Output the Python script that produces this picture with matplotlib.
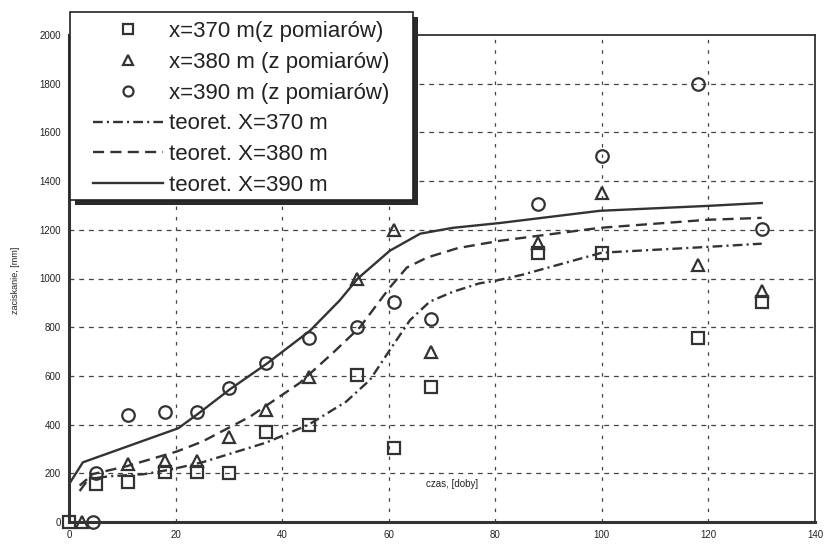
import matplotlib
matplotlib.use("Agg")
import matplotlib.pyplot as plt
from matplotlib.patches import Rectangle

plt.rcParams['font.family'] = ['Liberation Sans', 'DejaVu Sans']
plt.rcParams['lines.scale_dashes'] = False

# pomiary (czas [doby], zaciskanie [mm])
x370 = [0, 5, 11, 18, 24, 30, 37, 45, 54, 61, 68, 88, 100, 118, 130]
y370 = [0, 155, 165, 205, 205, 200, 370, 400, 605, 305, 555, 1105, 1105, 755, 905]

x380 = [2.5, 11, 18, 24, 30, 37, 45, 54, 61, 68, 88, 100, 118, 130]
y380 = [0, 240, 250, 250, 350, 460, 595, 1000, 1200, 700, 1145, 1350, 1055, 950]

x390 = [4.5, 5, 11, 18, 24, 30, 37, 45, 54, 61, 68, 88, 100, 118, 130]
y390 = [0, 200, 440, 450, 450, 550, 655, 755, 800, 905, 835, 1305, 1505, 1800, 1205]

# krzywe teoretyczne
tx370 = [2, 3.4, 7.7, 13.9, 19, 25, 37, 45, 52, 56.5, 60.2, 64, 67.7, 72, 77, 80.3, 85, 100, 120, 130]
ty370 = [150, 176, 188, 196, 215, 245, 326, 400, 494, 584, 706, 829, 905, 945, 980, 992, 1015, 1106, 1130, 1143]

tx380 = [2, 4.3, 10.8, 20.3, 25, 34, 43.3, 49.5, 54.6, 60.2, 63.4, 67.2, 73, 80.9, 99.6, 119.7, 130]
ty380 = [127, 196, 229, 290, 330, 433, 571, 694, 800, 963, 1045, 1086, 1125, 1155, 1208, 1241, 1249]

tx390 = [0, 2.6, 20.5, 24.5, 30.2, 37.1, 45.2, 50.8, 54.2, 60.2, 65.9, 72, 80.9, 99.6, 119.7, 130]
ty390 = [155, 245, 385, 449, 545, 650, 785, 910, 1000, 1114, 1184, 1208, 1228, 1278, 1298, 1310]

xticks = [0, 20, 40, 60, 80, 100, 120, 140]
yticks = [0, 200, 400, 600, 800, 1000, 1200, 1400, 1600, 1800, 2000]

W, H = 827, 545
fig = plt.figure(figsize=(W / 100, H / 100), dpi=100)
ax = fig.add_axes([69 / W, 1 - 522 / H, (815 - 69) / W, (522 - 35) / H])

c = '#333333'
for v in yticks[1:-1]:
    ax.axhline(v, color='#444444', lw=0.9, dashes=(3.5, 3.5), zorder=1)
for v in xticks[1:-1]:
    ax.axvline(v, color='#444444', lw=0.9, dashes=(2.5, 5), zorder=1)

ms = 9
ax.plot(x370, y370, ls='none', marker='s', ms=ms, mfc='none', mec=c, mew=1.6,
        label='x=370 m(z pomiarów)', zorder=3, clip_on=False)
ax.plot(x380, y380, ls='none', marker='^', ms=ms, mfc='none', mec=c, mew=1.6,
        label='x=380 m (z pomiarów)', zorder=3, clip_on=False)
ax.plot(x390, y390, ls='none', marker='o', ms=ms, mfc='none', mec=c, mew=1.6,
        label='x=390 m (z pomiarów)', zorder=3, clip_on=False)

ax.plot(tx370, ty370, color=c, lw=1.7, dashes=(7, 3, 1.5, 3), label='teoret. X=370 m', zorder=2)
ax.plot(tx380, ty380, color=c, lw=1.7, dashes=(8, 4.5), label='teoret. X=380 m', zorder=2)
ax.plot(tx390, ty390, color=c, lw=1.7, label='teoret. X=390 m', zorder=2)

ax.set_xlim(0, 140)
ax.set_ylim(0, 2000)
ax.set_xticks(xticks)
ax.set_yticks(yticks)
ax.tick_params(length=0, labelsize=7, colors='#222222', pad=6)
ax.spines['left'].set_linewidth(2.2)
ax.spines['bottom'].set_linewidth(2.2)
ax.spines['top'].set_linewidth(1.3)
ax.spines['right'].set_linewidth(1.3)
for s in ax.spines.values():
    s.set_color('#333333')

ax.text(0.478, 0.072, 'czas, [doby]', transform=ax.transAxes, fontsize=7, color='#222222')
fig.text(15 / W, 1 - 280 / H, 'zaciskanie, [mm]', rotation=90, fontsize=6.5,
         color='#222222', ha='center', va='center')

# ramka legendy z cieniem
def rect(x0, y0, x1, y1, **kw):
    return Rectangle((x0 / W, 1 - y1 / H), (x1 - x0) / W, (y1 - y0) / H,
                     transform=fig.transFigure, **kw)

fig.patches.append(rect(75, 17, 418, 205, facecolor='#2a2a2a', edgecolor='none', zorder=3))
fig.patches.append(rect(70, 12, 413, 200, facecolor='white', edgecolor='#222222', lw=1.2, zorder=4))

h, l = ax.get_legend_handles_labels()
fig.legend(h, l, loc='upper left', bbox_to_anchor=(93 / W, 1 - 21 / H), frameon=False,
           borderpad=0, borderaxespad=0, handlelength=3.15, handletextpad=0.25,
           labelspacing=0.44, fontsize=16, markerscale=0.8,
           labelcolor='#222222').set_zorder(5)

fig.savefig('out.png', dpi=100)
